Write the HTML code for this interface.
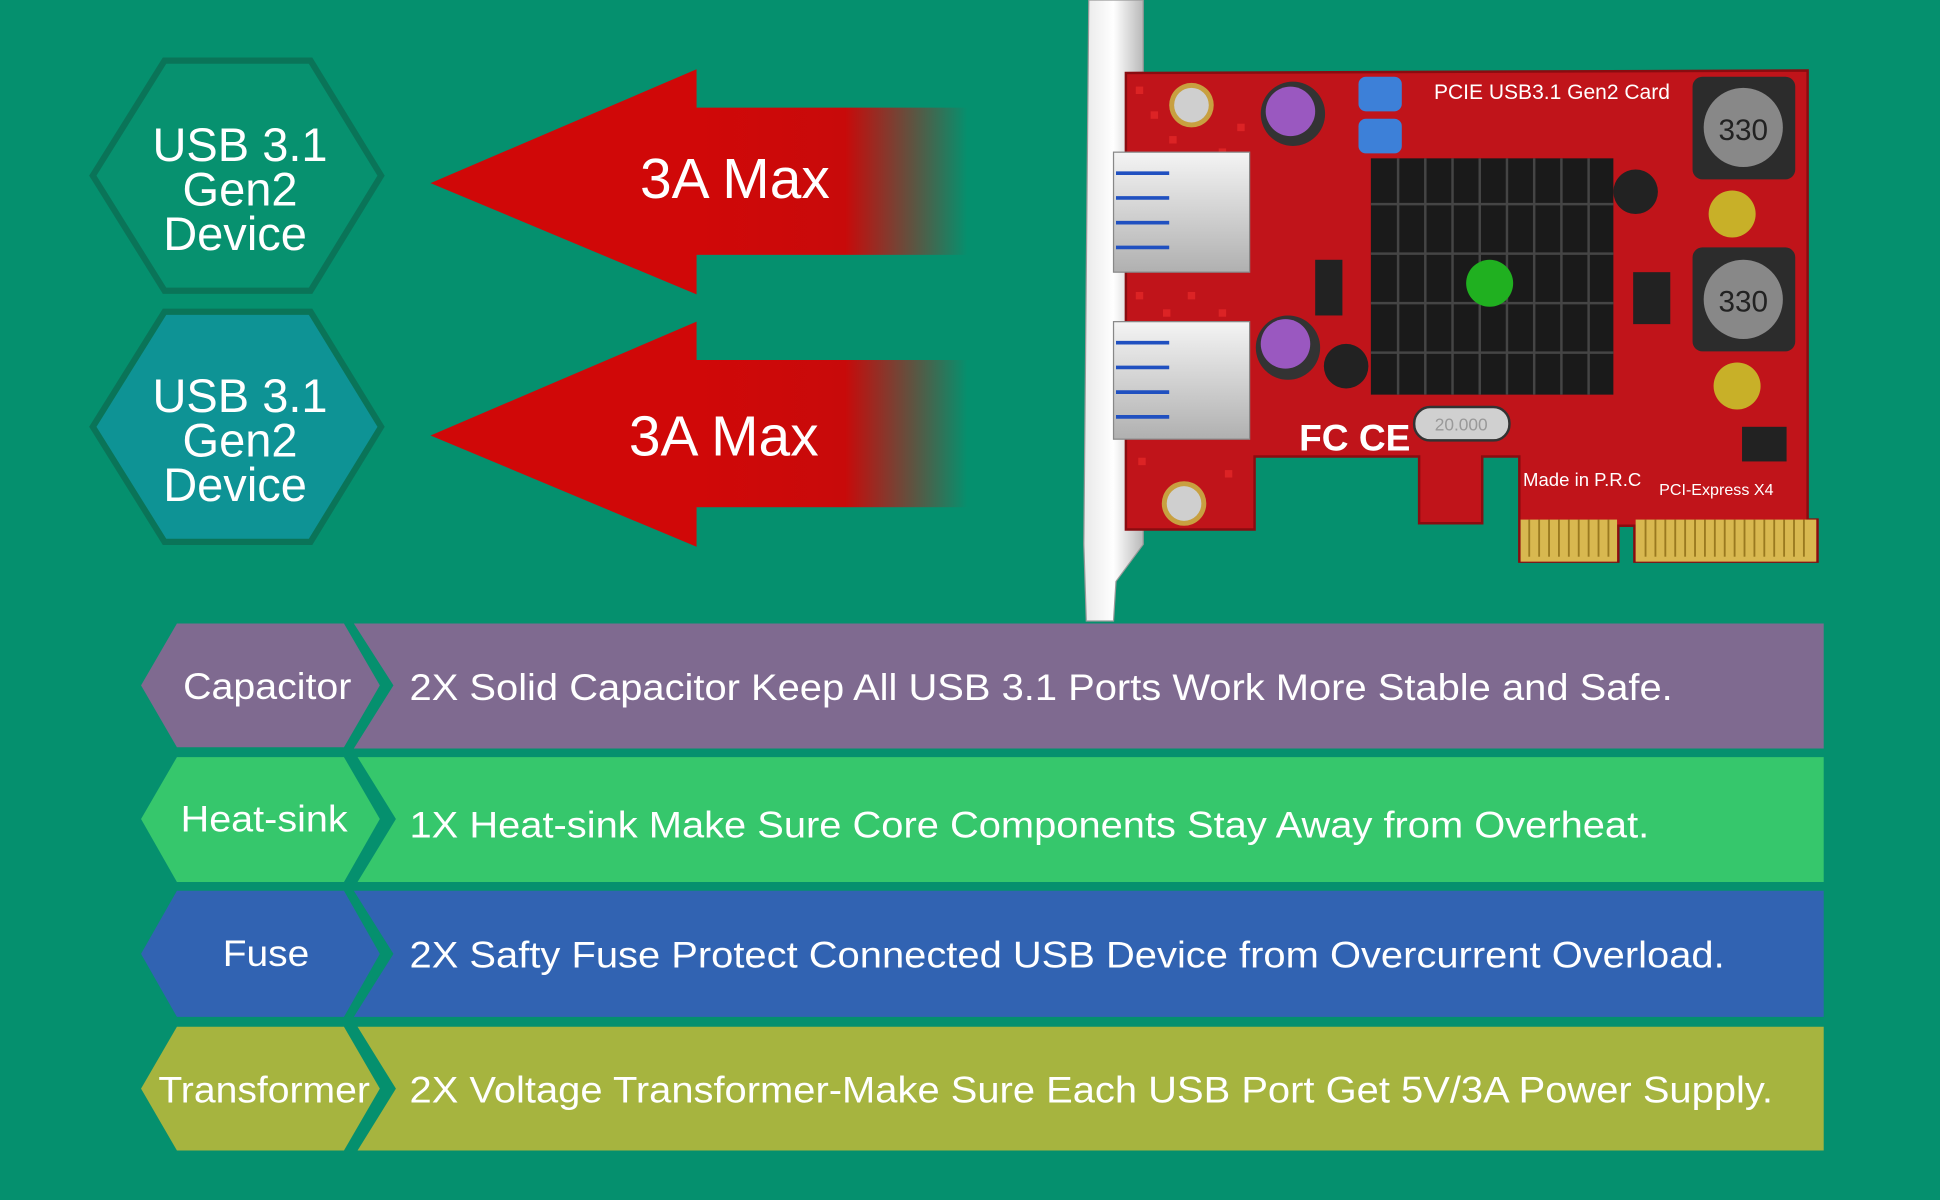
<!DOCTYPE html>
<html><head><meta charset="utf-8"><style>
html,body{margin:0;padding:0;background:#05906e;}
svg{display:block;}
text{font-family:"Liberation Sans",Arial,sans-serif;fill:#fff;}
</style></head><body>
<svg width="1940" height="1200" viewBox="0 0 1568 970" preserveAspectRatio="none" xmlns="http://www.w3.org/2000/svg">
<defs>
<linearGradient id="fade" x1="0" x2="1" y1="0" y2="0">
<stop offset="0" stop-color="#d00808"/>
<stop offset="0.55" stop-color="#c80a0a"/>
<stop offset="1" stop-color="#d00808" stop-opacity="0"/>
</linearGradient>
<linearGradient id="silver" x1="0" x2="1"><stop offset="0" stop-color="#e8e8e8"/><stop offset="0.5" stop-color="#ffffff"/><stop offset="1" stop-color="#b8b8b8"/></linearGradient>
<linearGradient id="port" x1="0" x2="0" y1="0" y2="1"><stop offset="0" stop-color="#f4f4f4"/><stop offset="1" stop-color="#b0b0b0"/></linearGradient>
</defs>
<rect width="1568" height="970" fill="#05906e"/>

<!-- hexagons -->
<polygon points="75,142 133,49 251,49 308,142 251,235 133,235" fill="#07916f" stroke="#0a7458" stroke-width="5"/>
<polygon points="75,345 133,252 251,252 308,345 251,438 133,438" fill="#0e9395" stroke="#0a7458" stroke-width="5"/>
<g font-size="38" text-anchor="middle">
<text x="194" y="130">USB 3.1</text><text x="194" y="166">Gen2</text><text x="190" y="202">Device</text>
<text x="194" y="333">USB 3.1</text><text x="194" y="369">Gen2</text><text x="190" y="405">Device</text>
</g>

<!-- arrows -->
<polygon points="348,148 563,56 563,238" fill="#d00808"/>
<rect x="562" y="87" width="220" height="119" fill="url(#fade)"/>
<polygon points="348,352 563,260 563,442" fill="#d00808"/>
<rect x="562" y="291" width="220" height="119" fill="url(#fade)"/>
<text x="594" y="160" font-size="46" text-anchor="middle">3A Max</text>
<text x="585" y="368" font-size="46" text-anchor="middle">3A Max</text>

<!-- bracket -->
<path d="M880,0 L924,0 L924,440 L902,470 L900,502 L878,502 L876,440 Z" fill="url(#silver)" stroke="#9a9a9a"/>

<!-- PCB board -->
<path d="M910,59 L1461,57 L1461,420 L1469,420 L1469,454 L1321,454 L1321,425 L1308,425 L1308,454 L1228,454 L1228,369 L1198,369 L1198,423 L1147,423 L1147,369 L1014,369 L1014,428 L910,428 Z" fill="#c0141a" stroke="#8a0c10" stroke-width="2"/>
<!-- patterns of red squares -->
<g fill="#e82a2a" opacity="0.7">
<rect x="918" y="70" width="6" height="6"/><rect x="930" y="90" width="6" height="6"/><rect x="945" y="110" width="6" height="6"/><rect x="918" y="236" width="6" height="6"/><rect x="940" y="250" width="6" height="6"/><rect x="960" y="236" width="6" height="6"/><rect x="985" y="250" width="6" height="6"/><rect x="920" y="370" width="6" height="6"/><rect x="990" y="380" width="6" height="6"/><rect x="1000" y="100" width="6" height="6"/><rect x="985" y="120" width="6" height="6"/>
</g>
<!-- gold fingers -->
<rect x="1229" y="420" width="78" height="34" fill="#d8b850"/>
<rect x="1322" y="420" width="146" height="34" fill="#d8b850"/>
<g stroke="#9a7a20" stroke-width="1.5">
<line x1="1236" y1="420" x2="1236" y2="450"/><line x1="1244" y1="420" x2="1244" y2="450"/><line x1="1252" y1="420" x2="1252" y2="450"/><line x1="1260" y1="420" x2="1260" y2="450"/><line x1="1268" y1="420" x2="1268" y2="450"/><line x1="1276" y1="420" x2="1276" y2="450"/><line x1="1284" y1="420" x2="1284" y2="450"/><line x1="1292" y1="420" x2="1292" y2="450"/><line x1="1300" y1="420" x2="1300" y2="450"/>
<line x1="1330" y1="420" x2="1330" y2="450"/><line x1="1338" y1="420" x2="1338" y2="450"/><line x1="1346" y1="420" x2="1346" y2="450"/><line x1="1354" y1="420" x2="1354" y2="450"/><line x1="1362" y1="420" x2="1362" y2="450"/><line x1="1370" y1="420" x2="1370" y2="450"/><line x1="1378" y1="420" x2="1378" y2="450"/><line x1="1386" y1="420" x2="1386" y2="450"/><line x1="1394" y1="420" x2="1394" y2="450"/><line x1="1402" y1="420" x2="1402" y2="450"/><line x1="1410" y1="420" x2="1410" y2="450"/><line x1="1418" y1="420" x2="1418" y2="450"/><line x1="1426" y1="420" x2="1426" y2="450"/><line x1="1434" y1="420" x2="1434" y2="450"/><line x1="1442" y1="420" x2="1442" y2="450"/><line x1="1450" y1="420" x2="1450" y2="450"/><line x1="1458" y1="420" x2="1458" y2="450"/>
</g>
<!-- USB ports -->
<rect x="900" y="123" width="110" height="97" fill="url(#port)" stroke="#888"/>
<rect x="900" y="260" width="110" height="95" fill="url(#port)" stroke="#888"/>
<g stroke="#2050c0" stroke-width="3">
<line x1="902" y1="140" x2="945" y2="140"/><line x1="902" y1="160" x2="945" y2="160"/><line x1="902" y1="180" x2="945" y2="180"/><line x1="902" y1="200" x2="945" y2="200"/>
<line x1="902" y1="277" x2="945" y2="277"/><line x1="902" y1="297" x2="945" y2="297"/><line x1="902" y1="317" x2="945" y2="317"/><line x1="902" y1="337" x2="945" y2="337"/>
</g>
<!-- screws -->
<circle cx="963" cy="85" r="18" fill="#c8a040"/><circle cx="963" cy="85" r="14" fill="#cfcfcf"/>
<circle cx="957" cy="407" r="18" fill="#c8a040"/><circle cx="957" cy="407" r="14" fill="#cfcfcf"/>
<!-- capacitors -->
<circle cx="1045" cy="92" r="26" fill="#333"/><circle cx="1043" cy="90" r="20" fill="#9a58c0"/>
<circle cx="1041" cy="281" r="26" fill="#333"/><circle cx="1039" cy="278" r="20" fill="#9a58c0"/>
<!-- fuses -->
<rect x="1098" y="62" width="35" height="28" rx="6" fill="#3d80d8"/>
<rect x="1098" y="96" width="35" height="28" rx="6" fill="#3d80d8"/>
<!-- heatsink -->
<rect x="1108" y="128" width="196" height="191" fill="#1a1a1a"/>
<g stroke="#454545" stroke-width="2">
<line x1="1108" y1="165" x2="1304" y2="165"/><line x1="1108" y1="205" x2="1304" y2="205"/><line x1="1108" y1="245" x2="1304" y2="245"/><line x1="1108" y1="285" x2="1304" y2="285"/>
<line x1="1130" y1="128" x2="1130" y2="319"/><line x1="1152" y1="128" x2="1152" y2="319"/><line x1="1174" y1="128" x2="1174" y2="319"/><line x1="1196" y1="128" x2="1196" y2="319"/><line x1="1218" y1="128" x2="1218" y2="319"/><line x1="1240" y1="128" x2="1240" y2="319"/><line x1="1262" y1="128" x2="1262" y2="319"/><line x1="1284" y1="128" x2="1284" y2="319"/>
</g>
<circle cx="1322" cy="155" r="18" fill="#222"/>
<circle cx="1088" cy="296" r="18" fill="#222"/>
<circle cx="1204" cy="229" r="19" fill="#20b020"/>
<!-- inductors -->
<rect x="1368" y="62" width="83" height="83" rx="8" fill="#2c2c2c"/><circle cx="1409" cy="103" r="32" fill="#888"/>
<rect x="1368" y="200" width="83" height="84" rx="8" fill="#2c2c2c"/><circle cx="1409" cy="242" r="32" fill="#888"/>
<text x="1409" y="113" font-size="24" text-anchor="middle" style="fill:#222">330</text>
<text x="1409" y="252" font-size="24" text-anchor="middle" style="fill:#222">330</text>
<circle cx="1400" cy="173" r="19" fill="#c8b028"/>
<circle cx="1404" cy="312" r="19" fill="#c8b028"/>
<!-- crystal -->
<rect x="1143" y="329" width="77" height="27" rx="13" fill="#d0d0d0" stroke="#333" stroke-width="2"/>
<text x="1181" y="348" font-size="14" text-anchor="middle" style="fill:#999">20.000</text>
<rect x="1063" y="210" width="22" height="45" fill="#222"/>
<rect x="1320" y="220" width="30" height="42" fill="#222"/>
<rect x="1408" y="345" width="36" height="28" fill="#222"/>
<g font-family="Liberation Mono" font-size="17">
<text x="1159" y="80">PCIE USB3.1 Gen2 Card</text>
<text x="1231" y="393" font-size="15">Made in P.R.C</text>
<text x="1341" y="400" font-size="13">PCI-Express X4</text>
</g>
<text x="1050" y="364" font-size="30" font-weight="bold">FC CE</text>

<!-- bottom rows -->
<g>
<polygon points="114,554 143,504 278,504 307,554 278,604 143,604" fill="#7f6a90"/>
<polygon points="286,504 1474,504 1474,605 286,605 318,554" fill="#7f6a90"/>
<polygon points="114,662 143,612 278,612 307,662 278,713 143,713" fill="#36c76c"/>
<polygon points="289,612 1474,612 1474,713 289,713 320,662" fill="#36c76c"/>
<polygon points="114,771 143,720 278,720 307,771 278,822 143,822" fill="#3163b2"/>
<polygon points="286,720 1474,720 1474,822 286,822 318,771" fill="#3163b2"/>
<polygon points="114,880 143,830 278,830 307,880 278,930 143,930" fill="#a6b43f"/>
<polygon points="289,830 1474,830 1474,930 289,930 320,880" fill="#a6b43f"/>
</g>
<g font-size="30">
<text x="148" y="565" textLength="136" lengthAdjust="spacingAndGlyphs">Capacitor</text>
<text x="146" y="672" textLength="135" lengthAdjust="spacingAndGlyphs">Heat-sink</text>
<text x="180" y="781" textLength="70" lengthAdjust="spacingAndGlyphs">Fuse</text>
<text x="128" y="891" textLength="171" lengthAdjust="spacingAndGlyphs">Transformer</text>
<text x="331" y="566" textLength="1021" lengthAdjust="spacingAndGlyphs">2X Solid Capacitor Keep All USB 3.1 Ports Work More Stable and Safe.</text>
<text x="331" y="677" textLength="1002" lengthAdjust="spacingAndGlyphs">1X Heat-sink Make Sure Core Components Stay Away from Overheat.</text>
<text x="331" y="782" textLength="1063" lengthAdjust="spacingAndGlyphs">2X Safty Fuse Protect Connected USB Device from Overcurrent Overload.</text>
<text x="331" y="891" textLength="1102" lengthAdjust="spacingAndGlyphs">2X Voltage Transformer-Make Sure Each USB Port Get 5V/3A Power Supply.</text>
</g>
</svg>
</body></html>
